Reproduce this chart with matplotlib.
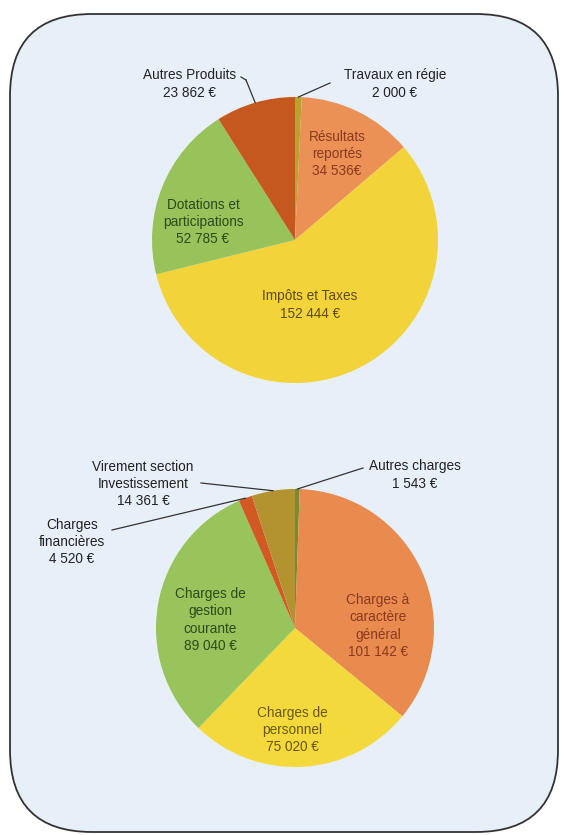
import numpy as np
import matplotlib
matplotlib.use("Agg")
import matplotlib.pyplot as plt
from matplotlib.patches import FancyBboxPatch

# ---- data ----
rec_labels = ["Travaux en régie\n2 000 €", "Résultats\nreportés\n34 536€", "Impôts et Taxes\n152 444 €",
              "Dotations et\nparticipations\n52 785 €", "Autres Produits\n23 862 €"]
rec_values = [2000, 34536, 152444, 52785, 23862]
rec_colors = ["#b9a22e", "#eb9156", "#f2d43a", "#97c35a", "#c5581f"]

dep_labels = ["Autres charges\n1 543 €", "Charges à\ncaractère\ngénéral\n101 142 €", "Charges de\npersonnel\n75 020 €",
              "Charges de\ngestion\ncourante\n89 040 €", "Charges\nfinancières\n4 520 €",
              "Virement section\nInvestissement\n14 361 €"]
dep_values = [1543, 101142, 75020, 89040, 4520, 14361]
dep_colors = ["#7c8a2e", "#e98a4f", "#f3d93b", "#97c45b", "#d25a22", "#b3932f"]

W, H = 561, 835
fig = plt.figure(figsize=(W / 100, H / 100), dpi=100)
fig.patch.set_facecolor("white")
ax = fig.add_axes([0, 0, 1, 1])
ax.axis("off")

def py(y):
    return H - y

bg = FancyBboxPatch((10, py(832)), 548, 818, boxstyle="round,pad=0,rounding_size=82",
                    facecolor="#e7f0f9", edgecolor="#333333", linewidth=1.3, zorder=0)
ax.add_patch(bg)

def draw_pie(values, colors, center, radius):
    wedges, _ = ax.pie(values, colors=colors, startangle=90, counterclock=False,
                       center=center, radius=radius, wedgeprops=dict(linewidth=0))
    for w in wedges:
        w.set_zorder(2)
    return wedges

c1 = (295, py(240)); r1 = 143
c2 = (295, py(628)); r2 = 139
w1 = draw_pie(rec_values, rec_colors, c1, r1)
w2 = draw_pie(dep_values, dep_colors, c2, r2)

font = dict(family=["Liberation Sans", "DejaVu Sans"], fontsize=9.8, ha="center", va="center",
            linespacing=1.3, zorder=5)

# label positions (pixel coords) and colours
rec_pos = [(395, 84), (337, 154), (310, 305), (203, 222), (190, 84)]
rec_tcol = ["#222222", "#8b3a1e", "#5e4c12", "#2c4a1a", "#222222"]
for lab, (x, y), col in zip(rec_labels, rec_pos, rec_tcol):
    ax.text(x, py(y), lab, color=col, **font)

dep_pos = [(415, 475), (378, 626), (292, 730), (210, 620), (72, 542), (143, 484)]
dep_tcol = ["#222222", "#8b3a1e", "#6a5818", "#2c4a1a", "#222222", "#222222"]
for lab, (x, y), col in zip(dep_labels, dep_pos, dep_tcol):
    ax.text(x, py(y), lab, color=col, **font)

def leader(wedge, center, radius, start):
    ang = np.deg2rad((wedge.theta1 + wedge.theta2) / 2)
    ex = center[0] + radius * np.cos(ang)
    ey = center[1] + radius * np.sin(ang)
    ax.plot([start[0], ex], [py(start[1]), ey], color="#333333", lw=0.9, zorder=4)

leader(w1[0], c1, r1, (330, 83))
leader(w1[4], c1, r1, (246, 80))
ax.plot([241, 246], [py(77), py(80)], color="#333333", lw=0.9, zorder=4)

leader(w2[0], c2, r2, (363, 468))
leader(w2[5], c2, r2, (201, 483))
leader(w2[4], c2, r2, (112, 530))

ax.set_xlim(0, W)
ax.set_ylim(0, H)
ax.set_aspect("auto")
fig.savefig("out.png", dpi=100, facecolor="white")
